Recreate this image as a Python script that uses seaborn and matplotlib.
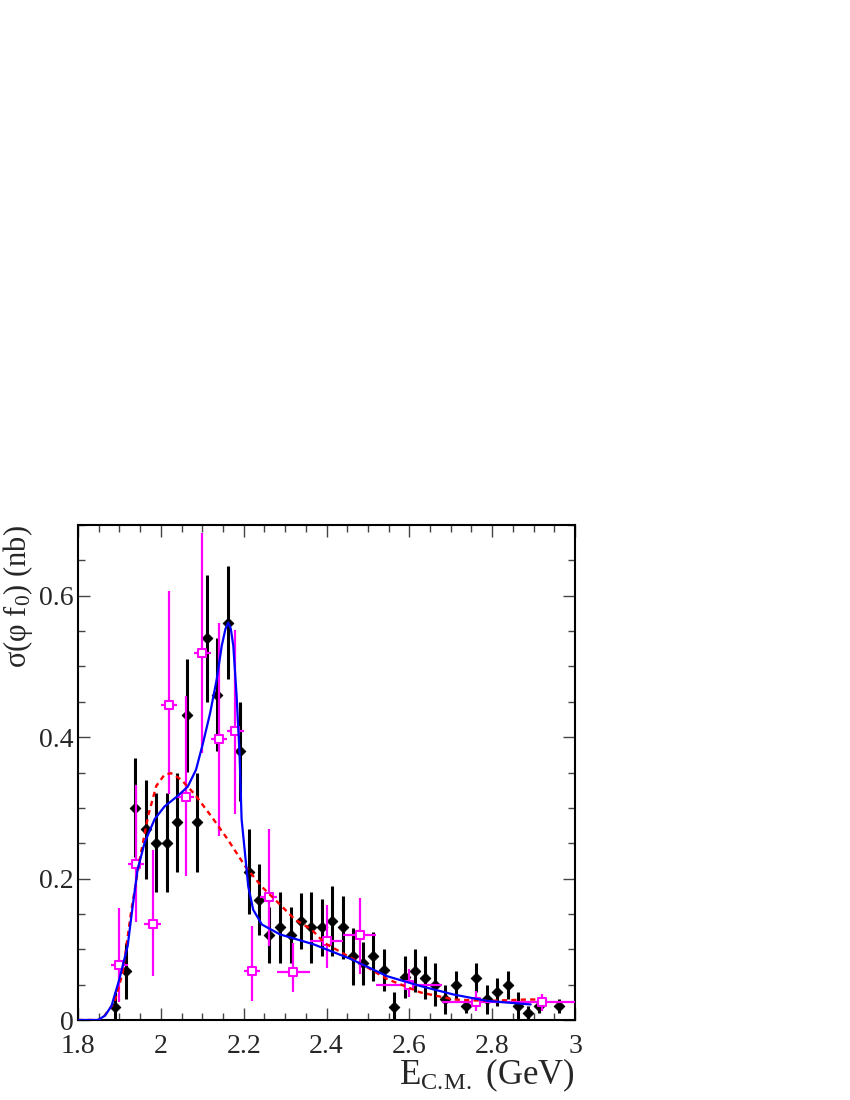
import matplotlib
matplotlib.use("Agg")
import matplotlib.pyplot as plt
import seaborn as sns
from matplotlib.ticker import MultipleLocator, FuncFormatter

# ---- black points (filled diamonds) ----
bes_x = [1.890, 1.915, 1.937, 1.963, 1.988, 2.014, 2.038, 2.062, 2.088, 2.112,
         2.136, 2.163, 2.190, 2.213, 2.238, 2.262, 2.288, 2.314, 2.338, 2.363,
         2.389, 2.413, 2.439, 2.463, 2.488, 2.512, 2.538, 2.562, 2.589, 2.613,
         2.637, 2.663, 2.687, 2.713, 2.737, 2.762, 2.788, 2.812, 2.838, 2.862,
         2.887, 2.913, 2.961]
bes_y = [0.019, 0.069, 0.300, 0.270, 0.251, 0.251, 0.280, 0.431, 0.280, 0.540,
         0.460, 0.562, 0.380, 0.210, 0.170, 0.120, 0.131, 0.120, 0.140, 0.131,
         0.131, 0.140, 0.131, 0.090, 0.080, 0.090, 0.071, 0.019, 0.061, 0.070,
         0.060, 0.050, 0.029, 0.050, 0.020, 0.060, 0.029, 0.040, 0.050, 0.020,
         0.010, 0.020, 0.020]
bes_err = [0.02, 0.04, 0.07, 0.07, 0.07, 0.07, 0.07, 0.08, 0.07, 0.09,
           0.08, 0.08, 0.07, 0.06, 0.05, 0.04, 0.05, 0.04, 0.04, 0.05,
           0.04, 0.05, 0.045, 0.04, 0.03, 0.035, 0.03, 0.02, 0.03, 0.03,
           0.03, 0.03, 0.02, 0.02, 0.01, 0.02, 0.02, 0.02, 0.02, 0.02,
           0.01, 0.01, 0.01]

# ---- magenta points (open squares) ----
mag_x = [1.90, 1.94, 1.98, 2.02, 2.06, 2.10, 2.14, 2.18, 2.22, 2.26,
         2.32, 2.40, 2.48, 2.60, 2.76, 2.92]
mag_y = [0.078, 0.220, 0.136, 0.446, 0.315, 0.519, 0.397, 0.408, 0.069, 0.174,
         0.068, 0.112, 0.120, 0.050, 0.025, 0.025]
mag_lo = [0.053, 0.082, 0.074, 0.126, 0.111, 0.141, 0.137, 0.117, 0.042, 0.069,
          0.029, 0.039, 0.055, 0.018, 0.012, 0.012]
mag_hi = [0.081, 0.113, 0.105, 0.160, 0.143, 0.169, 0.165, 0.143, 0.064, 0.096,
          0.041, 0.051, 0.052, 0.022, 0.016, 0.012]
mag_xerr = [0.02, 0.02, 0.02, 0.02, 0.02, 0.02, 0.02, 0.02, 0.02, 0.02,
            0.04, 0.04, 0.04, 0.08, 0.08, 0.08]

# ---- blue fit curve ----
blue_x = [1.800, 1.848, 1.865, 1.881, 1.900, 1.920, 1.932, 1.944, 1.961, 1.985,
          2.009, 2.041, 2.065, 2.085, 2.102, 2.119, 2.135, 2.147, 2.156, 2.163,
          2.169, 2.175, 2.183, 2.190, 2.195, 2.203, 2.211, 2.223, 2.244, 2.288,
          2.369, 2.460, 2.546, 2.627, 2.707, 2.788, 2.893]
blue_y = [0.000, 0.000, 0.006, 0.020, 0.058, 0.105, 0.161, 0.213, 0.251, 0.284,
          0.302, 0.317, 0.330, 0.354, 0.392, 0.434, 0.482, 0.529, 0.553, 0.562,
          0.553, 0.529, 0.458, 0.378, 0.284, 0.237, 0.189, 0.156, 0.135, 0.121,
          0.107, 0.086, 0.062, 0.048, 0.036, 0.027, 0.022]

# ---- red dashed fit curve ----
red_x = [1.800, 1.858, 1.864, 1.888, 1.908, 1.928, 1.949, 1.969, 1.989, 2.009,
         2.025, 2.049, 2.082, 2.122, 2.162, 2.203, 2.243, 2.283, 2.324, 2.364,
         2.395, 2.465, 2.546, 2.627, 2.707, 2.788, 2.885, 2.905]
red_y = [0.000, 0.000, 0.006, 0.025, 0.067, 0.152, 0.227, 0.288, 0.331, 0.347,
         0.349, 0.340, 0.319, 0.288, 0.255, 0.218, 0.189, 0.166, 0.142, 0.128,
         0.109, 0.086, 0.058, 0.039, 0.029, 0.027, 0.029, 0.029]

sns.set_style("ticks")
plt.rcParams["font.family"] = ["Liberation Serif", "DejaVu Serif"]
plt.rcParams["mathtext.default"] = "regular"

fig = plt.figure(figsize=(8.5, 11), dpi=100)
ax = fig.add_axes([78 / 850, 1 - 1020 / 1100, 497 / 850, 495 / 1100])

# black data
ax.errorbar(bes_x, bes_y, yerr=bes_err, fmt="none", ecolor="black",
            elinewidth=2.2, capsize=0, zorder=2)
sns.scatterplot(x=bes_x, y=bes_y, marker="D", s=30, color="black",
                edgecolor="black", linewidth=0.6, ax=ax, zorder=3)

# magenta data
ax.errorbar(mag_x, mag_y, xerr=mag_xerr, yerr=[mag_lo, mag_hi], fmt="none",
            ecolor="#ff00ff", elinewidth=1.6, capsize=0, zorder=4)
sns.scatterplot(x=mag_x, y=mag_y, marker="s", s=32, color="white",
                edgecolor="#ff00ff", linewidth=1.5, ax=ax, zorder=5)

# fit curves
sns.lineplot(x=red_x, y=red_y, color="red", lw=1.7, linestyle=(0, (2.2, 1.8)),
             estimator=None, ax=ax, zorder=6)
sns.lineplot(x=blue_x, y=blue_y, color="blue", lw=1.6,
             estimator=None, ax=ax, zorder=7)

ax.set_xlim(1.8, 3.0)
ax.set_ylim(0, 0.7)
ax.xaxis.set_major_locator(MultipleLocator(0.2))
ax.xaxis.set_minor_locator(MultipleLocator(0.05))
ax.yaxis.set_major_locator(MultipleLocator(0.2))
ax.yaxis.set_minor_locator(MultipleLocator(0.05))
fmt = FuncFormatter(lambda v, p: "%g" % round(v, 3))
ax.xaxis.set_major_formatter(fmt)
ax.yaxis.set_major_formatter(fmt)

ax.tick_params(which="both", direction="in", top=True, right=True,
               width=1, color="#444444", labelsize=20)
ax.tick_params(which="major", length=8.5)
ax.tick_params(which="minor", length=5)
ax.tick_params(axis="x", pad=10)
ax.tick_params(axis="y", pad=3)
for sp in ax.spines.values():
    sp.set_linewidth(1.5)
    sp.set_color("black")

ax.set_xlabel(r"E$_{C.\!M.}$ (GeV)", fontsize=25, loc="right")
ax.xaxis.set_label_coords(1.0, -0.074)
ax.set_ylabel("σ(φ f$_0$) (nb)", fontsize=22, loc="top")
ax.yaxis.set_label_coords(-0.087, 1.0)

fig.savefig("out.png", dpi=100)
